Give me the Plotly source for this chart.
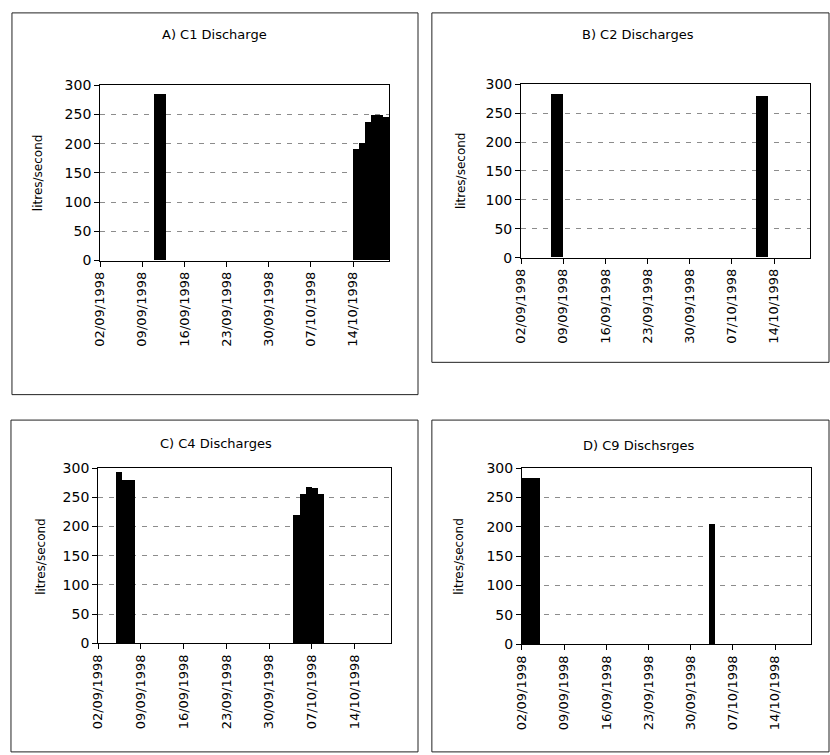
import pandas as pd
import plotly.graph_objects as go

W, H = 830, 755

# Daily discharge records (litres/second); days without discharge are omitted
c1_dates = ["1998-09-11", "1998-09-12", "1998-10-14", "1998-10-15",
            "1998-10-16", "1998-10-17", "1998-10-18", "1998-10-19"]
c1_vals = [285, 285, 191, 201, 237, 248, 248, 246]

c2_dates = ["1998-09-07", "1998-09-08", "1998-10-11", "1998-10-12"]
c2_vals = [282, 282, 279, 280]

c4_dates = ["1998-09-05", "1998-09-06", "1998-09-07", "1998-10-04",
            "1998-10-05", "1998-10-06", "1998-10-07", "1998-10-08"]
c4_vals = [293, 279, 279, 220, 256, 267, 265, 255]

c9_dates = ["1998-09-02", "1998-09-03", "1998-09-04", "1998-10-03"]
c9_vals = [283, 283, 283, 205]

panel_titles = ["A) C1 Discharge", "B) C2 Discharges",
                "C) C4 Discharges", "D) C9 Dischsrges"]
y_title = "litres/second"
x_start, x_end = "1998-09-02", "1998-10-20"
tick_dates = ["1998-09-02", "1998-09-09", "1998-09-16", "1998-09-23",
              "1998-09-30", "1998-10-07", "1998-10-14"]

series = [(c1_dates, c1_vals), (c2_dates, c2_vals),
          (c4_dates, c4_vals), (c9_dates, c9_vals)]

# plot-area pixel boxes (left, right, top, bottom) and outer frames;
# the lower frames run past the bottom edge of the page
plot_px = [(93, 385, 79, 258), (518, 810, 78, 255),
           (91, 387, 470, 649), (519, 811, 470, 650)]
frame_px = [(4, 414, 5, 395), (428, 829, 5, 362),
            (3, 414, 421, 760), (428, 829, 421, 760)]
title_px = [(209, 27), (636, 27), (210, 445), (637, 447)]
ytitle_px = [(31, 168), (458, 166), (33, 560), (456, 560)]

FONT = "DejaVu Sans"
DAY_MS = 86400000


def px_x(x):
    return x / W


def px_y(y):
    return 1 - y / H


fig = go.Figure()
layout = dict(
    width=W, height=H, margin=dict(l=0, r=0, t=0, b=0),
    paper_bgcolor="white", plot_bgcolor="white",
    showlegend=False, bargap=0,
    font=dict(family=FONT, size=13, color="black"),
    shapes=[], annotations=[],
)

for i, ((dates, vals), (l, r, t, b)) in enumerate(zip(series, plot_px), start=1):
    xs = pd.to_datetime(dates) + pd.Timedelta(hours=12)
    fig.add_trace(go.Bar(
        x=xs, y=vals, width=DAY_MS,
        marker=dict(color="black", line=dict(width=0)),
        xaxis=f"x{i}", yaxis=f"y{i}",
    ))
    sfx = "" if i == 1 else str(i)
    layout[f"xaxis{sfx}"] = dict(
        domain=[px_x(l), px_x(r)], anchor=f"y{i}", type="date",
        range=[x_start, x_end],
        tickvals=tick_dates, tickformat="%d/%m/%Y", tickangle=-90,
        ticks="outside", ticklen=5, tickcolor="black",
        showline=True, linecolor="black", linewidth=1, mirror=True,
        showgrid=False, zeroline=False,
        tickfont=dict(family=FONT, size=13, color="black"),
    )
    layout[f"yaxis{sfx}"] = dict(
        domain=[px_y(b), px_y(t)], anchor=f"x{i}",
        range=[0, 300], dtick=50, tick0=0,
        ticks="outside", ticklen=5, tickcolor="black",
        showline=True, linecolor="black", linewidth=1, mirror=True,
        showgrid=True, gridcolor="#8c8c8c", gridwidth=1, griddash="5px,6px",
        zeroline=False,
        tickfont=dict(family=FONT, size=14, color="black"),
    )

for (fl, fr, ft, fb) in frame_px:
    layout["shapes"].append(dict(
        type="rect", xref="paper", yref="paper",
        x0=px_x(fl), x1=px_x(fr), y0=px_y(fb), y1=px_y(ft),
        line=dict(color="#222", width=1), fillcolor="rgba(0,0,0,0)",
    ))

for text, (cx, cy) in zip(panel_titles, title_px):
    layout["annotations"].append(dict(
        text=text, xref="paper", yref="paper",
        x=px_x(cx), y=px_y(cy), xanchor="center", yanchor="middle",
        showarrow=False, font=dict(family=FONT, size=13, color="black"),
    ))

for (cx, cy) in ytitle_px:
    layout["annotations"].append(dict(
        text=y_title, xref="paper", yref="paper", textangle=-90,
        x=px_x(cx), y=px_y(cy), xanchor="center", yanchor="middle",
        showarrow=False, font=dict(family=FONT, size=12, color="black"),
    ))

fig.update_layout(**layout)
fig.write_html("out.html")
